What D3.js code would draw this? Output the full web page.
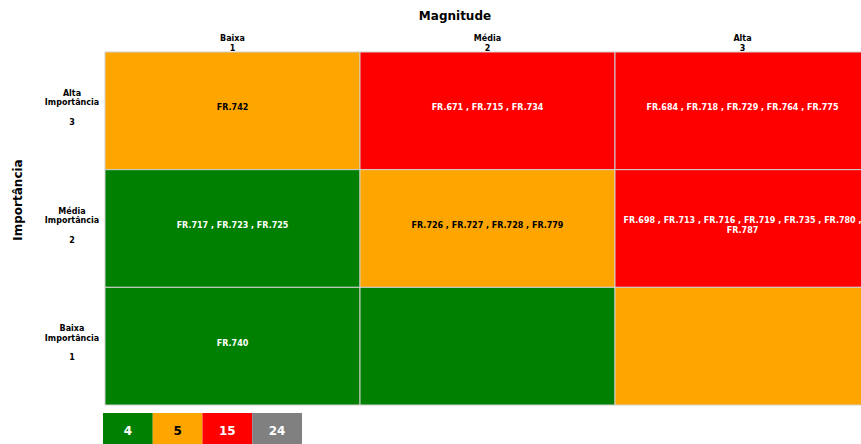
<!DOCTYPE html>
<html>
<head>
<meta charset="utf-8">
<script src="https://cdn.jsdelivr.net/npm/d3@7"></script>
<style>
  body { margin: 0; background: #fff; overflow: hidden; }
  text { font-family: "DejaVu Sans", Verdana, sans-serif; font-weight: bold; }
</style>
</head>
<body>
<div id="chart"></div>
<script>
// Magnitude (columns) and importance (rows)
const magnitudeLabels = ["Baixa", "Média", "Alta"];
const magnitudeValues = [1, 2, 3];
const importanceLabels = ["Alta", "Média", "Baixa"];
const importanceValues = [3, 2, 1];

// risk level per cell: row = importance (3..1), col = magnitude (1..3)
const cellLevels = [
    ["medio", "alto", "alto"],
    ["baixo", "medio", "alto"],
    ["baixo", "baixo", "medio"]
];

// codes in each cell
const cellCodes = [
    [["FR.742"], ["FR.671", "FR.715", "FR.734"], ["FR.684", "FR.718", "FR.729", "FR.764", "FR.775"]],
    [["FR.717", "FR.723", "FR.725"], ["FR.726", "FR.727", "FR.728", "FR.779"], ["FR.698", "FR.713", "FR.716", "FR.719", "FR.735", "FR.780", "FR.787"]],
    [["FR.740"], [], []]
];

// legend counts
const legendKeys = ["baixo", "medio", "alto", "total"];
const legendCounts = [4, 5, 15, 24];

const levelColor = { baixo: "#008000", medio: "#ffa500", alto: "#ff0000", total: "#808080" };
const levelText = { baixo: "#fff", medio: "#000", alto: "#fff", total: "#fff" };

const width = 861;
const height = 444;

const svg = d3.select("#chart")
    .append("svg")
    .attr("width", width)
    .attr("height", height);

const x = d3.scaleBand()
    .domain(magnitudeValues)
    .range([105, 870]);

const y = d3.scaleBand()
    .domain(importanceValues)
    .range([52, 405]);

// flatten the cells
const cells = [];
importanceValues.forEach((imp, i) => {
    magnitudeValues.forEach((mag, j) => {
        cells.push({ imp, mag, level: cellLevels[i][j], codes: cellCodes[i][j] });
    });
});

const cell = svg.append("g")
    .selectAll("g")
    .data(cells)
    .join("g")
    .attr("transform", d => `translate(${x(d.mag)},${y(d.imp)})`);

cell.append("rect")
    .attr("width", x.bandwidth())
    .attr("height", y.bandwidth())
    .attr("fill", d => levelColor[d.level])
    .attr("stroke", "#d0d0d0")
    .attr("stroke-width", 1);

// wrap text to cell width
function wrapText(textSel, words, maxWidth, lineHeight) {
    const lines = [];
    let line = [];
    const probe = textSel.append("tspan");
    words.forEach(w => {
        line.push(w);
        probe.text(line.join(" "));
        if (probe.node().getComputedTextLength() > maxWidth && line.length > 1) {
            line.pop();
            lines.push(line.join(" "));
            line = [w];
        }
    });
    if (line.length) lines.push(line.join(" "));
    probe.remove();
    const offset = -(lines.length - 1) * lineHeight / 2;
    lines.forEach((l, k) => {
        textSel.append("tspan")
            .attr("x", 0)
            .attr("y", offset + k * lineHeight)
            .text(l);
    });
}

cell.filter(d => d.codes.length > 0).each(function(d) {
    const t = d3.select(this).append("text")
        .attr("transform", `translate(${x.bandwidth() / 2},${y.bandwidth() / 2 - 3.5})`)
        .attr("text-anchor", "middle")
        .attr("dominant-baseline", "middle")
        .attr("font-size", 8)
        .attr("fill", levelText[d.level]);
    const words = d.codes.join(" , ").split(" ");
    wrapText(t, words, x.bandwidth() - 8, 10);
});

// title
svg.append("text")
    .attr("x", 455)
    .attr("y", 20)
    .attr("text-anchor", "middle")
    .attr("font-size", 12)
    .attr("fill", "#000")
    .text("Magnitude");

// column headers
const colHead = svg.append("g")
    .selectAll("text")
    .data(magnitudeValues)
    .join("text")
    .attr("text-anchor", "middle")
    .attr("font-size", 8)
    .attr("fill", "#000");
colHead.append("tspan")
    .attr("x", d => x(d) + x.bandwidth() / 2)
    .attr("y", 41)
    .text((d, i) => magnitudeLabels[i]);
colHead.append("tspan")
    .attr("x", d => x(d) + x.bandwidth() / 2)
    .attr("y", 50.5)
    .text(d => d);

// row headers
const rowHead = svg.append("g")
    .selectAll("text")
    .data(importanceValues)
    .join("text")
    .attr("text-anchor", "middle")
    .attr("font-size", 8)
    .attr("fill", "#000");
rowHead.append("tspan")
    .attr("x", 72)
    .attr("y", d => y(d) + y.bandwidth() / 2 - 15)
    .text((d, i) => importanceLabels[i]);
rowHead.append("tspan")
    .attr("x", 72)
    .attr("y", d => y(d) + y.bandwidth() / 2 - 5.5)
    .text("Importância");
rowHead.append("tspan")
    .attr("x", 72)
    .attr("y", d => y(d) + y.bandwidth() / 2 + 14)
    .text(d => d);

// y title
svg.append("text")
    .attr("transform", "translate(22,200) rotate(-90)")
    .attr("text-anchor", "middle")
    .attr("font-size", 12)
    .attr("fill", "#000")
    .text("Importância");

// legend
const lx = d3.scaleBand()
    .domain(legendKeys)
    .range([103, 302]);

const leg = svg.append("g")
    .selectAll("g")
    .data(legendKeys)
    .join("g")
    .attr("transform", d => `translate(${lx(d)},413)`);

leg.append("rect")
    .attr("width", lx.bandwidth())
    .attr("height", 40)
    .attr("fill", d => levelColor[d]);

leg.append("text")
    .attr("x", lx.bandwidth() / 2)
    .attr("y", 22)
    .attr("text-anchor", "middle")
    .attr("font-size", 12)
    .attr("fill", d => levelText[d])
    .text((d, i) => legendCounts[i]);
</script>
</body>
</html>
